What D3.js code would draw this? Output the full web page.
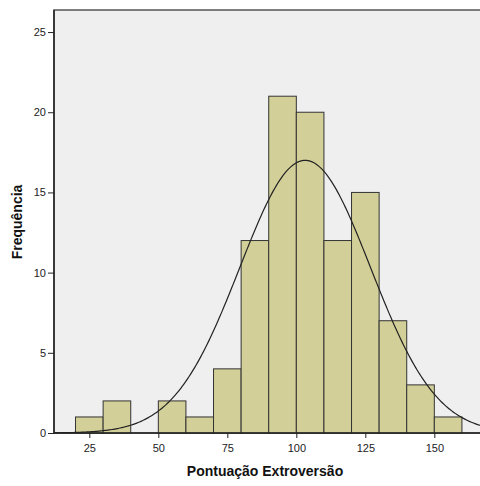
<!DOCTYPE html>
<html>
<head>
<meta charset="utf-8">
<script src="https://cdn.jsdelivr.net/npm/d3@7"></script>
<style>
  body { margin: 0; background: #fff; }
  svg { display: block; font-family: Arial, "Liberation Sans", sans-serif; }
  .tick text { fill: #222; font-size: 11px; }
  .tick line { stroke: #222; }
  .domain { stroke: #222; }
</style>
</head>
<body>
<svg id="svg" width="480" height="486"></svg>
<script>
// histogram bins (lower edge, width 10) and counts
var binStarts = [20, 30, 40, 50, 60, 70, 80, 90, 100, 110, 120, 130, 140, 150];
var counts    = [1, 2, 0, 2, 1, 4, 12, 21, 20, 12, 15, 7, 3, 1];
var binWidth = 10;

// fitted normal curve parameters
var mean = 103.2, stdDev = 23.7, nObs = 101;

var xTicks = [25, 50, 75, 100, 125, 150];
var yTicks = [0, 5, 10, 15, 20, 25];

var svg = d3.select("#svg");

var plotL = 54, plotT = 10, plotB = 433, plotR = 560;

var x = d3.scaleLinear()
    .domain([12.2, 12.2 + (plotR - plotL) / 2.76])
    .range([plotL, plotR]);

var y = d3.scaleLinear()
    .domain([0, 26.375])
    .range([plotB, plotT]);

// plot background
svg.append("rect")
    .attr("x", plotL)
    .attr("y", plotT)
    .attr("width", plotR - plotL)
    .attr("height", plotB - plotT)
    .attr("fill", "#efefef")
    .attr("stroke", "#555")
    .attr("stroke-width", 1.5);

var bins = binStarts.map(function(d, i) { return { x0: d, x1: d + binWidth, n: counts[i] }; });

svg.append("g")
  .selectAll("rect")
  .data(bins.filter(function(d) { return d.n > 0; }))
  .enter().append("rect")
    .attr("x", function(d) { return x(d.x0); })
    .attr("y", function(d) { return y(d.n); })
    .attr("width", function(d) { return x(d.x1) - x(d.x0); })
    .attr("height", function(d) { return y(0) - y(d.n); })
    .attr("fill", "#d3cf98")
    .attr("stroke", "#333")
    .attr("stroke-width", 1);

// normal curve scaled to counts
var scaleK = nObs * binWidth / (stdDev * Math.sqrt(2 * Math.PI));
var curvePts = d3.range(x.domain()[0], x.domain()[1], 0.5).map(function(v) {
  var z = (v - mean) / stdDev;
  return [v, scaleK * Math.exp(-0.5 * z * z)];
});

svg.append("path")
    .datum(curvePts)
    .attr("fill", "none")
    .attr("stroke", "#222")
    .attr("stroke-width", 1.2)
    .attr("d", d3.line()
      .x(function(d) { return x(d[0]); })
      .y(function(d) { return y(d[1]); }));

svg.append("g")
    .attr("transform", "translate(0," + plotB + ")")
    .call(d3.axisBottom(x).tickValues(xTicks).tickSize(5).tickPadding(6))
    .call(function(g) { g.select(".domain").remove(); });

svg.append("line")
    .attr("x1", plotL).attr("x2", plotR)
    .attr("y1", plotB).attr("y2", plotB)
    .attr("stroke", "#222").attr("stroke-width", 1.5);

svg.append("g")
    .attr("transform", "translate(" + plotL + ",0)")
    .call(d3.axisLeft(y).tickValues(yTicks).tickSize(6).tickPadding(2))
    .call(function(g) { g.select(".domain").remove(); });

svg.append("line")
    .attr("x1", plotL).attr("x2", plotL)
    .attr("y1", plotT).attr("y2", plotB)
    .attr("stroke", "#222").attr("stroke-width", 1.5);

svg.append("text")
    .attr("x", 265)
    .attr("y", 476)
    .attr("text-anchor", "middle")
    .attr("font-size", "14px")
    .attr("font-weight", "bold")
    .attr("fill", "#111")
    .text("Pontuação Extroversão");

svg.append("text")
    .attr("transform", "translate(22,222)rotate(-90)")
    .attr("text-anchor", "middle")
    .attr("font-size", "14px")
    .attr("font-weight", "bold")
    .attr("fill", "#111")
    .text("Frequência");
</script>
</body>
</html>
